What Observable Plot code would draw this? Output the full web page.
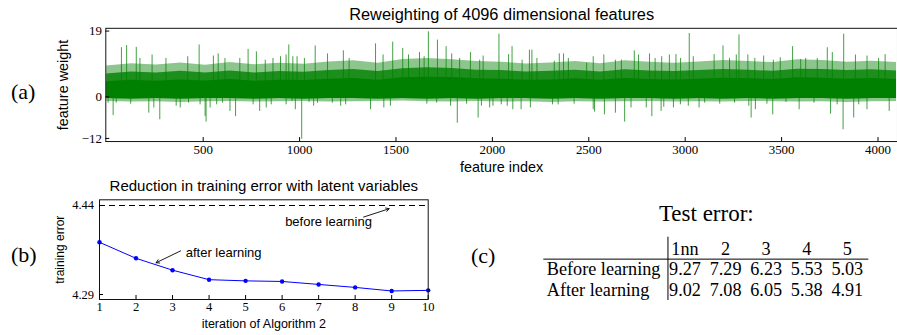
<!DOCTYPE html>
<html><head><meta charset="utf-8">
<script src="https://cdn.jsdelivr.net/npm/d3@7"></script>
<script src="https://cdn.jsdelivr.net/npm/@observablehq/plot@0.6"></script>
<style>
html,body{margin:0;padding:0;background:#fff;overflow:hidden;}
#root{position:relative;width:897px;height:335px;overflow:hidden;background:#fff;}
.panel{position:absolute;}
.lab{position:absolute;font-family:"Liberation Serif",serif;font-size:22px;line-height:22px;color:#000;}
</style></head><body><div id="root"></div>
<script>
// ---------- Panel (a): feature weights ----------
const titleA = "Reweighting of 4096 dimensional features";
const xLabelA = "feature index";
const yLabelA = "feature weight";
const xTicksA = [500, 1000, 1500, 2000, 2500, 3000, 3500, 4000];
const yTicksA = [-12, 0, 19];
// dense body of the bars, read per 128-feature bin
const binStart = [0,128,256,384,512,640,768,896,1024,1152,1280,1408,1536,1664,1792,1920,2048,2176,2304,2432,2560,2688,2816,2944,3072,3200,3328,3456,3584,3712,3840,3968,4096];
const solidTop = [4.4,4.8,4.5,4.9,4.6,5.0,4.5,4.8,4.7,5.1,5.3,4.8,5.5,5.7,5.6,5.2,5.1,4.8,4.9,5.2,4.8,5.3,5.0,4.9,5.1,5.4,5.2,5.0,5.5,5.4,5.1,5.3,5.0];
const denseTop = [6.6,7.2,6.9,7.4,6.9,7.5,6.9,7.3,7.1,7.6,7.9,7.3,8.1,8.4,8.2,7.7,7.6,7.2,7.4,7.7,7.2,7.8,7.5,7.3,7.6,7.9,7.7,7.4,8.0,7.9,7.6,7.8,7.5];
const sparseTop = [8.9,9.6,9.2,9.8,9.1,9.9,9.3,9.7,9.4,10.1,10.4,9.7,10.8,11.1,10.7,10.2,10.0,9.5,9.8,10.2,9.6,10.4,10.0,9.7,10.1,10.5,10.2,9.9,10.7,10.5,10.0,10.3,9.9];
const solidBottom = [-0.5,-0.6,-0.5,-0.6,-0.5,-0.5,-0.6,-0.5,-0.6,-0.5,-0.5,-0.6,-0.5,-0.6,-0.5,-0.6,-0.5,-0.5,-0.6,-0.5,-0.6,-0.5,-0.5,-0.6,-0.5,-0.6,-0.5,-0.6,-0.5,-0.5,-0.6,-0.5,-0.5];
const sparseBottom = [-1.3,-1.5,-1.4,-1.6,-1.4,-1.3,-1.5,-1.4,-1.3,-1.5,-1.4,-1.3,-1.2,-1.4,-1.5,-1.3,-1.5,-1.4,-1.6,-1.4,-1.5,-1.4,-1.3,-1.5,-1.4,-1.5,-1.3,-1.4,-1.5,-1.4,-1.6,-1.4,-1.3];
// individual spikes (feature index, weight)
const posSpikeIndex = [76,103,153,172,235,307,420,479,553,578,613,690,733,776,822,862,901,930,944,965,987,1025,1081,1145,1227,1257,1394,1433,1483,1535,1565,1622,1646,1668,1715,1760,1789,1830,1886,1934,1952,2034,2084,2102,2154,2192,2205,2231,2321,2347,2369,2394,2489,2523,2578,2638,2669,2736,2758,2815,2844,2878,2918,2952,2976,3021,3042,3150,3196,3230,3265,3279,3325,3361,3407,3457,3493,3557,3599,3625,3685,3737,3763,3822,3883,3943,4003,4037];
const posSpikeWeight = [14.2,14.8,14.3,11.1,12.1,11.1,11.6,15.0,11.8,12.4,11.1,11.1,13.7,13.0,10.6,11.1,11.6,12.1,15.0,11.6,11.6,11.1,14.7,12.4,13.3,11.1,15.3,12.1,15.8,14.0,12.1,12.8,11.6,18.8,16.4,14.5,12.4,11.1,12.8,10.6,11.8,18.1,12.2,14.5,10.6,13.5,13.5,11.1,10.3,12.4,12.4,11.1,9.7,11.6,12.1,10.6,10.6,13.3,12.1,12.4,11.1,11.6,12.1,12.2,11.1,18.3,11.6,12.2,14.7,11.1,12.1,17.9,12.1,11.1,11.8,10.6,11.3,14.5,10.8,11.1,11.1,14.2,12.8,18.1,12.1,11.8,11.1,12.2];
const negSpikeIndex = [7,33,49,124,218,244,275,360,381,424,484,510,515,536,570,600,639,668,759,793,827,853,930,961,978,1011,1049,1073,1093,1170,1213,1239,1368,1437,1471,1660,1711,1783,1818,1866,1926,1943,1986,2003,2046,2077,2106,2149,2197,2312,2341,2424,2523,2530,2581,2638,2686,2719,2798,2827,2875,2889,2939,2975,3016,3072,3101,3179,3256,3330,3342,3364,3424,3454,3523,3591,3668,3754,3788,3819,3874,3900,3943,4058];
const negSpikeWeight = [-1.8,-5.4,-1.8,-2.1,-4.7,-3.2,-6.6,-2.7,-3.2,-1.8,-2.3,-5.7,-7.3,-3.2,-2.3,-1.8,-4.2,-5.7,-2.3,-4.2,-3.2,-2.3,-2.3,-1.3,-3.7,-12.2,-1.6,-2.7,-1.8,-1.8,-2.7,-2.3,-3.7,-3.2,-2.7,-2.1,-1.8,-2.7,-7.6,-2.1,-6.1,-2.7,-3.2,-2.7,-2.3,-2.7,-3.7,-3.7,-3.2,-2.3,-2.3,-2.1,-3.7,-4.4,-5.2,-4.7,-7.3,-3.2,-3.2,-5.7,-4.2,-3.0,-3.2,-2.3,-2.7,-3.2,-1.8,-2.1,-1.8,-2.7,-6.1,-3.7,-2.1,-5.2,-1.6,-3.7,-1.8,-5.0,-2.3,-9.5,-6.1,-2.3,-3.7,-4.2];

// ---------- Panel (b): training error ----------
const titleB = "Reduction in training error with latent variables";
const xLabelB = "iteration of Algorithm 2";
const yLabelB = "training error";
const iterations = [1,2,3,4,5,6,7,8,9,10];
const trainingError = [4.378,4.351,4.331,4.315,4.313,4.312,4.307,4.302,4.296,4.297];
const beforeError = 4.44;
const yTicksB = [4.29, 4.44];
const noteText = ["before learning", "after learning"];
const noteX = [7.27, 3.36];
const noteY = [4.412, 4.361];
const arrowFromX = [8.23, 3.22];
const arrowFromY = [4.4205, 4.3635];
const arrowToX = [8.93, 2.55];
const arrowToY = [4.4345, 4.3435];

// ---------- Panel (c): test error table ----------
const titleC = "Test error:";
const columns = ["1nn", "2", "3", "4", "5"];
const rowLabels = ["Before learning", "After learning"];
const beforeErr = [9.27, 7.29, 6.23, 5.53, 5.03];
const afterErr = [9.02, 7.08, 6.05, 5.38, 4.91];

const green = "#008000";
const sans = "Liberation Sans, Arial, sans-serif";
const serif = "Liberation Serif, Times New Roman, serif";

const bins = binStart.map((x, i) => ({x, solidTop: solidTop[i], denseTop: denseTop[i], sparseTop: sparseTop[i], solidBottom: solidBottom[i], sparseBottom: sparseBottom[i]}));
const posSpikes = posSpikeIndex.map((x, i) => ({x, w: posSpikeWeight[i]}));
const negSpikes = negSpikeIndex.map((x, i) => ({x, w: negSpikeWeight[i]}));

const root = document.getElementById("root");
function place(el, left, top) { el.classList.add("panel"); el.style.left = left + "px"; el.style.top = top + "px"; root.appendChild(el); }

const plotA = Plot.plot({
  width: 903, height: 180,
  marginLeft: 106, marginRight: 0, marginTop: 28, marginBottom: 38,
  x: {domain: [-5, 4101], label: null},
  y: {domain: [-12.9, 19.8], label: null},
  style: {fontFamily: serif, fontSize: "13px", color: "#000", overflow: "visible"},
  marks: [
    Plot.areaY(bins, {x: "x", y1: "sparseBottom", y2: "sparseTop", fill: green, fillOpacity: 0.45}),
    Plot.areaY(bins, {x: "x", y1: "solidBottom", y2: "denseTop", fill: green, fillOpacity: 0.8}),
    Plot.areaY(bins, {x: "x", y1: "solidBottom", y2: "solidTop", fill: green}),
    Plot.ruleX(posSpikes, {x: "x", y1: 0, y2: "w", stroke: green, strokeOpacity: 0.75}),
    Plot.ruleX(negSpikes, {x: "x", y1: 0, y2: "w", stroke: green, strokeOpacity: 0.75}),
    Plot.frame({stroke: "#111"}),
    Plot.axisX({ticks: xTicksA, tickSize: -4, tickPadding: 7, tickFormat: d => String(d), label: null, fontFamily: serif, fontSize: 13}),
    Plot.axisY({ticks: yTicksA, tickSize: -4, tickPadding: 8, label: null, fontFamily: serif, fontSize: 13}),
    Plot.text([titleA], {frameAnchor: "top", lineAnchor: "middle", dy: -14, fontFamily: sans, fontSize: 16.5}),
    Plot.text([xLabelA], {frameAnchor: "bottom", lineAnchor: "middle", dy: 26, fontFamily: sans, fontSize: 14.5}),
    Plot.text([yLabelA], {frameAnchor: "left", textAnchor: "middle", dx: -43, rotate: -90, fontFamily: sans, fontSize: 14.5})
  ]
});
place(plotA, 0, 0);

const plotB = Plot.plot({
  width: 450, height: 160,
  marginLeft: 99, marginRight: 22.3, marginTop: 24.3, marginBottom: 36,
  x: {domain: [1, 10], label: null},
  y: {domain: [4.2816, 4.4496], label: null},
  style: {fontFamily: serif, fontSize: "13px", color: "#000", overflow: "visible"},
  marks: [
    Plot.ruleY([beforeError], {stroke: "#000", strokeDasharray: "6,4"}),
    Plot.line(iterations, {x: d => d, y: (d, i) => trainingError[i], stroke: "#0000ff", strokeWidth: 1}),
    Plot.dot(iterations, {x: d => d, y: (d, i) => trainingError[i], r: 2.2, fill: "#0000ff", stroke: "none"}),
    Plot.arrow(noteText, {x1: (d, i) => arrowFromX[i], y1: (d, i) => arrowFromY[i], x2: (d, i) => arrowToX[i], y2: (d, i) => arrowToY[i], stroke: "#000", strokeWidth: 0.9, headLength: 6}),
    Plot.text([noteText[0]], {x: noteX[0], y: noteY[0], textAnchor: "middle", fontFamily: sans, fontSize: 13}),
    Plot.text([noteText[1]], {x: noteX[1], y: noteY[1], textAnchor: "start", fontFamily: sans, fontSize: 13}),
    Plot.frame({stroke: "#111"}),
    Plot.axisX({ticks: iterations, tickSize: -4, tickPadding: 7, label: null, fontFamily: serif, fontSize: 12.5}),
    Plot.axisY({ticks: yTicksB, tickSize: -4, tickPadding: 9.5, tickFormat: d => d.toFixed(2), label: null, fontFamily: serif, fontSize: 12.5}),
    Plot.text([titleB], {frameAnchor: "top", lineAnchor: "middle", dy: -13.6, fontFamily: sans, fontSize: 15}),
    Plot.text([xLabelB], {frameAnchor: "bottom", lineAnchor: "middle", dy: 24, fontFamily: sans, fontSize: 12.5}),
    Plot.text([yLabelB], {frameAnchor: "left", textAnchor: "middle", dx: -39, rotate: -90, fontFamily: sans, fontSize: 12})
  ]
});
place(plotB, 0, 175);

const cells = [];
rowLabels.forEach((r, ri) => (ri === 0 ? beforeErr : afterErr).forEach((v, ci) => cells.push({row: ri + 1, col: ci + 1, v})));
const plotC = Plot.plot({
  width: 447, height: 145,
  marginLeft: 93.3, marginRight: 28.7, marginTop: 46.7, marginBottom: 35,
  x: {domain: [-2.48, 5.53], axis: null},
  y: {domain: [-0.56, 2.5], reverse: true, axis: null},
  style: {fontFamily: serif, fontSize: "18.2px", color: "#000", overflow: "visible"},
  marks: [
    Plot.ruleY([0.5], {stroke: "#000", strokeWidth: 1}),
    Plot.ruleX([0.58], {stroke: "#000", strokeWidth: 1}),
    Plot.text(columns, {x: (d, i) => i + 1, y: 0, text: d => d, fontSize: 18.2}),
    Plot.text(rowLabels, {y: (d, i) => i + 1, text: d => d, frameAnchor: "left", textAnchor: "start", dx: 3, fontSize: 18.2}),
    Plot.text(cells, {x: "col", y: "row", text: d => d.v.toFixed(2), fontSize: 18.2}),
    Plot.text([titleC], {frameAnchor: "top", lineAnchor: "middle", dy: -23.4, fontSize: 23})
  ]
});
place(plotC, 450, 190);

[["(a)", 11, 81], ["(b)", 11, 244], ["(c)", 471, 245]].forEach(([t, x, y]) => {
  const d = document.createElement("div"); d.className = "lab"; d.textContent = t;
  d.style.left = x + "px"; d.style.top = y + "px"; root.appendChild(d);
});
</script></body></html>
